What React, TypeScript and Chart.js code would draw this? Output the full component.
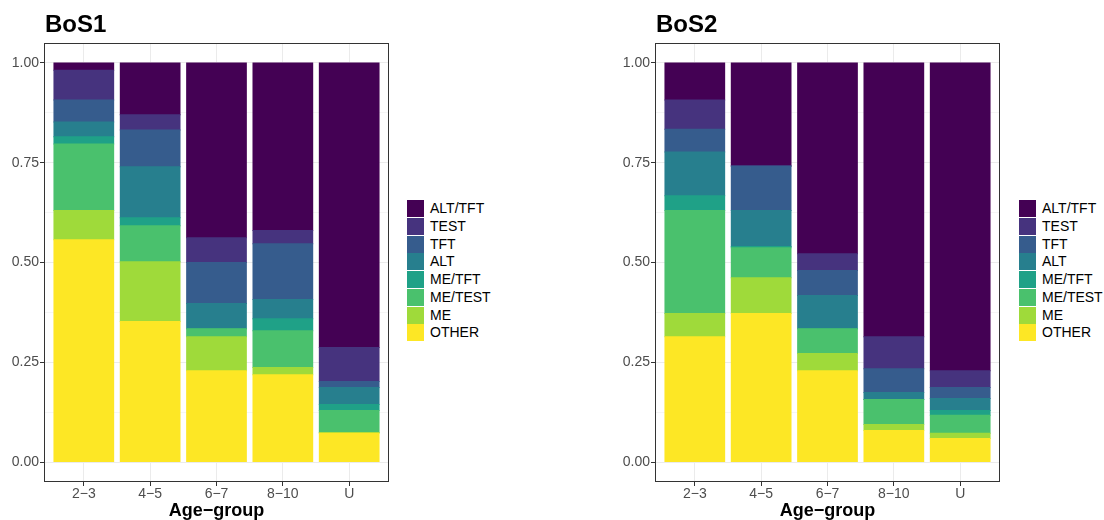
import React, { useEffect, useRef } from 'react';
import { Chart, registerables } from 'chart.js';

Chart.register(...registerables);

const FONT = "'Liberation Sans', Arial, Helvetica, sans-serif";

const categories = ['2−3', '4−5', '6−7', '8−10', 'U'];
const seriesNames = ['ALT/TFT', 'TEST', 'TFT', 'ALT', 'ME/TFT', 'ME/TEST', 'ME', 'OTHER'];
const seriesColors = ['#440154', '#46337E', '#365C8D', '#277F8E', '#1FA187', '#4AC16D', '#9FDA3A', '#FDE725'];
const yTickValues = [0, 0.125, 0.25, 0.375, 0.5, 0.625, 0.75, 0.875, 1];

// BoS1 shares per category
const bos1AltTft = [0.018, 0.130, 0.438, 0.420, 0.713];
const bos1Test = [0.075, 0.038, 0.062, 0.033, 0.085];
const bos1Tft = [0.055, 0.092, 0.103, 0.140, 0.015];
const bos1Alt = [0.037, 0.128, 0.063, 0.048, 0.043];
const bos1MeTft = [0.018, 0.020, 0, 0.030, 0.015];
const bos1MeTest = [0.167, 0.090, 0.020, 0.092, 0.055];
const bos1Me = [0.073, 0.150, 0.085, 0.018, 0.002];
const bos1Other = [0.557, 0.352, 0.229, 0.219, 0.072];

// BoS2 shares per category
const bos2AltTft = [0.093, 0.258, 0.478, 0.686, 0.771];
const bos2Test = [0.073, 0, 0.042, 0.080, 0.042];
const bos2Tft = [0.057, 0.112, 0.063, 0.060, 0.028];
const bos2Alt = [0.110, 0.090, 0.083, 0.017, 0.030];
const bos2MeTft = [0.037, 0.003, 0, 0, 0.012];
const bos2MeTest = [0.258, 0.075, 0.062, 0.063, 0.045];
const bos2Me = [0.058, 0.090, 0.043, 0.015, 0.013];
const bos2Other = [0.314, 0.372, 0.229, 0.079, 0.059];

const bos1Series = [bos1AltTft, bos1Test, bos1Tft, bos1Alt, bos1MeTft, bos1MeTest, bos1Me, bos1Other];
const bos2Series = [bos2AltTft, bos2Test, bos2Tft, bos2Alt, bos2MeTft, bos2MeTest, bos2Me, bos2Other];

const borderPlugin = {
  id: 'panelBorder',
  afterDraw(chart: any) {
    const { ctx, chartArea } = chart;
    ctx.save();
    ctx.strokeStyle = '#333333';
    ctx.lineWidth = 1;
    ctx.strokeRect(
      Math.round(chartArea.left) + 0.5,
      Math.round(chartArea.top) + 0.5,
      Math.round(chartArea.right - chartArea.left) - 1,
      Math.round(chartArea.bottom - chartArea.top) - 1
    );
    ctx.restore();
  },
};

function Panel({ title, series, left }: { title: string; series: number[][]; left: number }) {
  const ref = useRef<HTMLCanvasElement | null>(null);

  useEffect(() => {
    if (!ref.current) return;
    // stack bottom-up: OTHER first
    const order = [...seriesNames.keys()].reverse();
    const datasets = order.map((si) => ({
      label: seriesNames[si],
      backgroundColor: seriesColors[si],
      borderWidth: 0,
      inflateAmount: 0.5,
      data: series[si].map((v, ci) => ({ x: ci + 1, y: v })),
    }));
    const isMajor = (v: number) => Math.abs(v * 4 - Math.round(v * 4)) < 1e-6;
    const chart = new Chart(ref.current, {
      type: 'bar',
      data: { datasets },
      plugins: [borderPlugin],
      options: {
        responsive: false,
        animation: false,
        events: [],
        layout: { padding: { top: 43, right: 11, bottom: 0, left: 0 } },
        plugins: {
          legend: { display: false },
          tooltip: { enabled: false },
          title: { display: false },
        },
        datasets: { bar: { barPercentage: 0.9, categoryPercentage: 1 } },
        scales: {
          x: {
            type: 'linear',
            min: 0.4,
            max: 5.6,
            stacked: true,
            offset: false,
            afterBuildTicks: (s: any) => {
              s.ticks = categories.map((_, i) => ({ value: i + 1 }));
            },
            afterFit: (s: any) => {
              s.height = 38;
            },
            ticks: {
              autoSkip: false,
              maxRotation: 0,
              minRotation: 0,
              padding: 0,
              color: '#4D4D4D',
              font: { family: FONT, size: 14 },
              callback: (v: any) => categories[Math.round(Number(v)) - 1] ?? '',
            },
            grid: {
              offset: false,
              color: '#EBEBEB',
              lineWidth: 1,
              tickLength: 4,
              tickColor: '#333333',
              drawTicks: true,
            },
            border: { display: false },
            title: {
              display: true,
              text: 'Age−group',
              color: '#000000',
              font: { family: FONT, size: 18, weight: 'bold', lineHeight: 1 },
              padding: 0,
            },
          },
          y: {
            type: 'linear',
            min: -0.05,
            max: 1.05,
            stacked: true,
            afterBuildTicks: (s: any) => {
              s.ticks = yTickValues.map((v) => ({ value: v }));
            },
            afterFit: (s: any) => {
              s.width = 44;
            },
            ticks: {
              autoSkip: false,
              padding: 1,
              color: '#4D4D4D',
              font: { family: FONT, size: 14 },
              callback: (v: any) => (isMajor(Number(v)) ? Number(v).toFixed(2) : ''),
            },
            grid: {
              color: '#EBEBEB',
              lineWidth: (c: any) => (c.tick && isMajor(c.tick.value) ? 1 : 0.5),
              tickLength: 4,
              tickColor: (c: any) => (c.tick && isMajor(c.tick.value) ? '#333333' : 'rgba(0,0,0,0)'),
              drawTicks: true,
            },
            border: { display: false },
          },
        },
      } as any,
    });
    return () => chart.destroy();
  }, [series]);

  return (
    <div style={{ position: 'absolute', left, top: 0, width: 400, height: 520 }}>
      <canvas ref={ref} width={400} height={520} style={{ display: 'block', width: 400, height: 520 }} />
      <div
        style={{
          position: 'absolute',
          left: 45,
          top: 11.5,
          fontFamily: FONT,
          fontWeight: 'bold',
          fontSize: 24,
          lineHeight: '24px',
          color: '#000',
          whiteSpace: 'nowrap',
        }}
      >
        {title}
      </div>
    </div>
  );
}

function Legend({ left }: { left: number }) {
  return (
    <div style={{ position: 'absolute', left, top: 200, width: 100, height: 150 }}>
      {seriesNames.map((name, i) => (
        <div key={name} style={{ position: 'absolute', left: 0, top: i * 17.75, height: 17, width: 100 }}>
          <div
            style={{
              position: 'absolute',
              left: 0,
              top: 0,
              width: 17,
              height: 17,
              background: seriesColors[i],
            }}
          />
          <div
            style={{
              position: 'absolute',
              left: 23,
              top: 0,
              height: 17,
              lineHeight: '17px',
              fontFamily: FONT,
              fontSize: 14,
              color: '#000',
              whiteSpace: 'nowrap',
            }}
          >
            {name}
          </div>
        </div>
      ))}
    </div>
  );
}

export default function App() {
  return (
    <div
      style={{
        position: 'absolute',
        left: 0,
        top: 0,
        width: 1104,
        height: 520,
        overflow: 'hidden',
        background: '#ffffff',
      }}
    >
      <Panel title="BoS1" series={bos1Series} left={0} />
      <Legend left={407} />
      <Panel title="BoS2" series={bos2Series} left={611} />
      <Legend left={1019} />
    </div>
  );
}
